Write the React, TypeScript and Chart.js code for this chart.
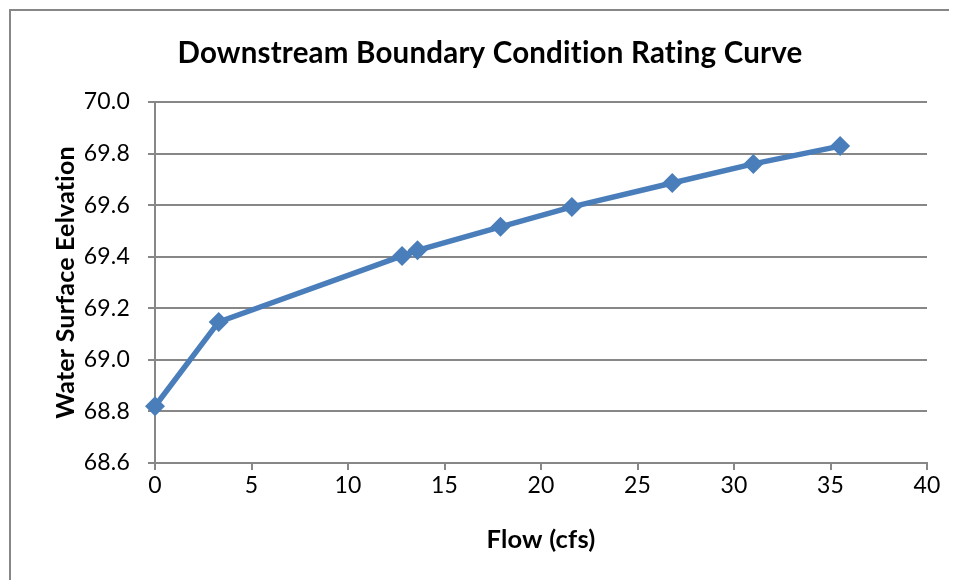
import React, { useEffect, useRef } from "react";
import { Chart, registerables } from "chart.js";

Chart.register(...registerables);

const flowCfs: number[] = [0, 3.3, 12.8, 13.6, 17.9, 21.6, 26.8, 31.0, 35.5];
const wsElevation: number[] = [68.82, 69.147, 69.403, 69.425, 69.516, 69.593, 69.686, 69.76, 69.829];

const chartTitle = "Downstream Boundary Condition Rating Curve";
const xTitle = "Flow (cfs)";
const yTitle = "Water Surface Eelvation";

const FONT = "Lato, 'Open Sans', sans-serif";
const GRID = "#878787";
const BLUE = "#4A7EBB";

const noLigatures = {
  id: "noLigatures",
  beforeDraw(chart: any) {
    try {
      (chart.ctx as any).letterSpacing = "0.2px";
    } catch (e) {}
  },
};

export default function App() {
  const ref = useRef<HTMLCanvasElement | null>(null);

  useEffect(() => {
    document.documentElement.style.overflow = "hidden";
    const canvas = ref.current;
    if (!canvas) return;
    const chart = new Chart(canvas, {
      type: "line",
      data: {
        datasets: [
          {
            data: flowCfs.map((x, i) => ({ x, y: wsElevation[i] })),
            borderColor: BLUE,
            backgroundColor: BLUE,
            borderWidth: 5.5,
            pointStyle: "rectRot",
            pointRadius: 10,
            pointHoverRadius: 10,
            pointBorderWidth: 0,
            tension: 0,
            clip: false,
          },
        ],
      },
      plugins: [noLigatures],
      options: {
        responsive: false,
        animation: false,
        devicePixelRatio: 1,
        layout: { padding: { left: 42, right: 30, top: 0, bottom: 0 } },
        plugins: {
          legend: { display: false },
          tooltip: { enabled: false },
          title: {
            display: true,
            text: chartTitle,
            color: "#000",
            font: { family: FONT, size: 29.5, weight: "bold" },
            padding: { top: 24.3, bottom: 31.3 },
          },
        },
        scales: {
          x: {
            type: "linear",
            min: 0,
            max: 40,
            ticks: {
              stepSize: 5,
              color: "#000",
              font: { family: FONT, size: 23 },
              padding: 2,
              maxRotation: 0,
            },
            grid: {
              drawOnChartArea: false,
              drawTicks: true,
              tickLength: 7,
              color: GRID,
              lineWidth: 2,
            },
            border: { display: true, color: GRID, width: 2 },
            title: {
              display: true,
              text: xTitle,
              color: "#000",
              font: { family: FONT, size: 25.5, weight: "bold" },
              padding: { top: 0, bottom: 24.7 },
            },
            afterFit: (s: any) => {
              s.height = 117;
            },
          },
          y: {
            type: "linear",
            min: 68.6,
            max: 70.0,
            ticks: {
              stepSize: 0.2,
              color: "#000",
              font: { family: FONT, size: 23 },
              padding: 18,
              callback: (v: any) => Number(v).toFixed(1),
            },
            grid: {
              drawTicks: true,
              tickLength: 7,
              color: GRID,
              lineWidth: 2,
            },
            border: { display: true, color: GRID, width: 2 },
            title: {
              display: true,
              text: yTitle,
              color: "#000",
              font: { family: FONT, size: 25, weight: "bold", lineHeight: 1 },
              padding: { top: 0, bottom: 0 },
            },
            afterFit: (s: any) => {
              s.width = 102;
            },
          },
        },
      },
    });
    return () => chart.destroy();
  }, []);

  return (
    <div style={{ paddingTop: 1, paddingLeft: 1 }}>
      <div
        style={{
          borderTop: `2px solid ${GRID}`,
          borderLeft: `2px solid ${GRID}`,
          width: 946,
          height: 569,
          background: "#fff",
        }}
      >
        <canvas ref={ref} width={946} height={569} style={{ display: "block" }} />
      </div>
    </div>
  );
}
